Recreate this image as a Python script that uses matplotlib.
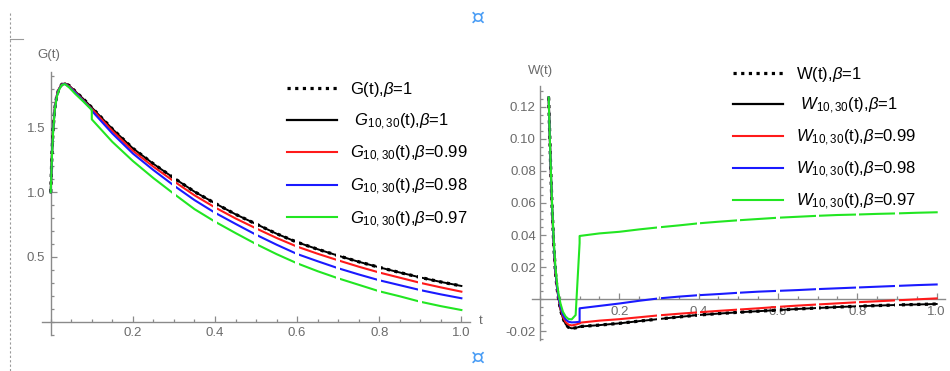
import matplotlib
matplotlib.use("Agg")
import matplotlib.pyplot as plt
from matplotlib.patches import Rectangle
from matplotlib.lines import Line2D
from matplotlib.ticker import FixedLocator, FixedFormatter, MultipleLocator

plt.rcParams['font.family'] = ['Liberation Sans', 'DejaVu Sans']
plt.rcParams['mathtext.fontset'] = 'custom'
plt.rcParams['mathtext.rm'] = 'Liberation Sans'
plt.rcParams['mathtext.it'] = 'Liberation Sans:italic'
plt.rcParams['mathtext.bf'] = 'Liberation Sans:bold'
plt.rcParams['axes.unicode_minus'] = False

# ---------------- data ----------------
t_G = [0, 0.003, 0.006, 0.01, 0.015, 0.02, 0.027, 0.035, 0.045, 0.06, 0.08, 0.1,
       0.1, 0.15, 0.2, 0.25, 0.3, 0.35, 0.4, 0.45, 0.5, 0.55, 0.6, 0.65, 0.7,
       0.75, 0.8, 0.85, 0.9, 0.95, 1.0]
G_exact = [1.0, 1.30, 1.50, 1.65, 1.75, 1.80, 1.835, 1.842, 1.825, 1.78, 1.72, 1.655,
           1.655, 1.49, 1.34, 1.22, 1.11, 1.005, 0.915, 0.83, 0.755, 0.68, 0.614,
           0.56, 0.51, 0.463, 0.42, 0.38, 0.342, 0.307, 0.276]
G_b100 = [1.0, 1.30, 1.50, 1.65, 1.75, 1.80, 1.835, 1.842, 1.825, 1.78, 1.72, 1.655,
          1.655, 1.49, 1.34, 1.22, 1.11, 1.005, 0.915, 0.83, 0.755, 0.68, 0.614,
          0.56, 0.51, 0.463, 0.42, 0.38, 0.342, 0.307, 0.276]
G_b099 = [1.0, 1.30, 1.50, 1.65, 1.75, 1.80, 1.834, 1.840, 1.82, 1.775, 1.71, 1.645,
          1.645, 1.475, 1.321, 1.198, 1.085, 0.977, 0.883, 0.798, 0.721, 0.647, 0.580,
          0.525, 0.474, 0.425, 0.380, 0.340, 0.300, 0.265, 0.232]
G_b098 = [1.0, 1.29, 1.49, 1.645, 1.745, 1.795, 1.832, 1.838, 1.815, 1.77, 1.705, 1.64,
          1.63, 1.455, 1.30, 1.172, 1.052, 0.94, 0.842, 0.756, 0.672, 0.595, 0.523,
          0.467, 0.413, 0.365, 0.32, 0.282, 0.244, 0.211, 0.181]
G_b097 = [1.0, 1.28, 1.48, 1.64, 1.74, 1.79, 1.83, 1.836, 1.81, 1.76, 1.70, 1.636,
          1.564, 1.39, 1.242, 1.11, 0.988, 0.87, 0.773, 0.685, 0.60, 0.522, 0.451,
          0.39, 0.335, 0.285, 0.235, 0.196, 0.154, 0.12, 0.090]

t_W = [0.022, 0.025, 0.028, 0.031, 0.035, 0.039, 0.043, 0.047, 0.052, 0.058, 0.065,
       0.072, 0.08, 0.09, 0.1,
       0.1, 0.15, 0.2, 0.25, 0.3, 0.35, 0.4, 0.45, 0.5, 0.55, 0.6, 0.65, 0.7,
       0.75, 0.8, 0.85, 0.9, 0.95, 1.0]
W_exact = [0.126, 0.100, 0.075, 0.055, 0.033, 0.017, 0.007, 0.0, -0.007, -0.012, -0.0158,
           -0.0177, -0.0183, -0.018, -0.0174,
           -0.0172, -0.0163, -0.0152, -0.0138, -0.0125, -0.0112, -0.0100, -0.0091,
           -0.0083, -0.0076, -0.0069, -0.0062, -0.0056, -0.0050, -0.0045, -0.0041,
           -0.0037, -0.0034, -0.0031]
W_b100 = [0.126, 0.100, 0.075, 0.055, 0.033, 0.017, 0.007, 0.0, -0.007, -0.012, -0.0158,
          -0.0177, -0.0183, -0.018, -0.0174,
          -0.0172, -0.0163, -0.0152, -0.0138, -0.0125, -0.0112, -0.0100, -0.0091,
          -0.0083, -0.0076, -0.0069, -0.0062, -0.0056, -0.0050, -0.0045, -0.0041,
          -0.0037, -0.0034, -0.0031]
W_b099 = [0.126, 0.100, 0.075, 0.055, 0.033, 0.017, 0.0075, 0.0005, -0.006, -0.011, -0.0145,
          -0.016, -0.0165, -0.016, -0.0152,
          -0.0148, -0.0135, -0.0126, -0.0114, -0.0102, -0.0092, -0.0083, -0.0074,
          -0.0066, -0.0058, -0.0049, -0.0041, -0.0034, -0.0027, -0.0020, -0.0014,
          -0.0008, -0.0002, 0.0004]
W_b098 = [0.126, 0.100, 0.076, 0.056, 0.034, 0.018, 0.008, 0.001, -0.005, -0.0098, -0.0128,
          -0.0142, -0.0146, -0.0145, -0.0142,
          -0.0058, -0.0043, -0.0028, -0.0011, 0.0004, 0.0015, 0.0024, 0.0031,
          0.0039, 0.0046, 0.0051, 0.0056, 0.0062, 0.0067, 0.0072, 0.0077,
          0.0082, 0.0087, 0.0091]
W_b097 = [0.126, 0.100, 0.077, 0.057, 0.036, 0.020, 0.010, 0.003, -0.003, -0.008, -0.011,
          -0.0125, -0.0127, -0.010, 0.035,
          0.0394, 0.041, 0.042, 0.0435, 0.0448, 0.046, 0.0473, 0.0483,
          0.0492, 0.050, 0.0508, 0.0514, 0.052, 0.0525, 0.0528, 0.0532,
          0.0535, 0.0539, 0.0542]

G_labels = [r'G(t),$\beta$=1',
            r' $\mathit{G}_{\mathrm{10,30}}$(t),$\beta$=1',
            r'$\mathit{G}_{\mathrm{10,30}}$(t),$\beta$=0.99',
            r'$\mathit{G}_{\mathrm{10,30}}$(t),$\beta$=0.98',
            r'$\mathit{G}_{\mathrm{10,30}}$(t),$\beta$=0.97']
W_labels = [r'W(t),$\beta$=1',
            r' $\mathit{W}_{\mathrm{10,30}}$(t),$\beta$=1',
            r'$\mathit{W}_{\mathrm{10,30}}$(t),$\beta$=0.99',
            r'$\mathit{W}_{\mathrm{10,30}}$(t),$\beta$=0.98',
            r'$\mathit{W}_{\mathrm{10,30}}$(t),$\beta$=0.97']

x_major = [0.2, 0.4, 0.6, 0.8, 1.0]
x_major_labels = ['0.2', '0.4', '0.6', '0.8', '1.0']
G_yticks = [0.5, 1.0, 1.5]
G_ylabels = ['0.5', '1.0', '1.5']
W_yticks = [-0.02, 0.02, 0.04, 0.06, 0.08, 0.10, 0.12]
W_ylabels = ['-0.02', '0.02', '0.04', '0.06', '0.08', '0.10', '0.12']
seg_breaks = [0.3, 0.4, 0.5, 0.6, 0.7, 0.8, 0.9]

# ---------------- styling ----------------
W_PX, H_PX = 950, 371
fig = plt.figure(figsize=(9.5, 3.71), dpi=100)
AX_COL = '#8a8a8a'
TXT_COL = '#6b6b6b'
COLORS = ['black', 'black', '#ff1a1a', '#1a1aff', '#22e622']


def px_axes(x0, x1, ytop, ybot):
    return fig.add_axes([x0 / W_PX, 1 - ybot / H_PX, (x1 - x0) / W_PX, (ybot - ytop) / H_PX])


def mathematica_axes(ax):
    for s in ['top', 'right']:
        ax.spines[s].set_visible(False)
    for s in ['left', 'bottom']:
        ax.spines[s].set_position(('data', 0))
        ax.spines[s].set_color(AX_COL)
        ax.spines[s].set_linewidth(1.0)
    ax.tick_params(which='both', direction='in', color=AX_COL, width=0.9,
                   labelcolor=TXT_COL, labelsize=9.5)
    ax.tick_params(which='major', length=4.5)
    ax.tick_params(which='minor', length=2.5)
    ax.patch.set_visible(False)


def plot_segmented(ax, t, y, gap, **kw):
    edges = [-1.0] + seg_breaks + [2.0]
    lab = kw.pop('label', None)
    for i in range(len(edges) - 1):
        a = edges[i] + (gap if i > 0 else 0)
        b = edges[i + 1] - (gap if i < len(edges) - 2 else 0)
        ln, = ax.plot(t, y, label=lab if i == 0 else None, **kw)
        r = Rectangle((a, -10), b - a, 20, transform=ax.transData)
        ln.set_clip_path(r)


def draw_series(ax, t, series, labels, gap):
    dotted = dict(color='black', lw=2.3, linestyle=(0, (1.0, 1.4)), dash_capstyle='butt')
    plot_segmented(ax, t, series[1], gap, color='black', lw=1.4, zorder=3)
    plot_segmented(ax, t, series[0], gap, label=labels[0], zorder=4, **dotted)
    ax.plot([], [], color='black', lw=1.6, label=labels[1])
    for k in range(2, 5):
        plot_segmented(ax, t, series[k], gap, color=COLORS[k], lw=1.5, zorder=4 + k,
                       label=labels[k])


# ---------------- left panel : G(t) ----------------
axL = px_axes(41.7, 470, 72, 334.6)
mathematica_axes(axL)
axL.set_xlim(-0.022, 1.021)
axL.set_ylim(-0.1, 1.93)
draw_series(axL, t_G, [G_exact, G_b100, G_b099, G_b098, G_b097], G_labels, 0.0045)
axL.xaxis.set_major_locator(FixedLocator(x_major))
axL.xaxis.set_major_formatter(FixedFormatter(x_major_labels))
axL.xaxis.set_minor_locator(MultipleLocator(0.05))
axL.yaxis.set_major_locator(FixedLocator(G_yticks))
axL.yaxis.set_major_formatter(FixedFormatter(G_ylabels))
axL.yaxis.set_minor_locator(MultipleLocator(0.1))
axL.tick_params(axis='x', pad=4)
axL.tick_params(axis='y', pad=4)
fig.text(49 / W_PX, 1 - 55 / H_PX, 'G(t)', ha='center', va='center', color=TXT_COL, fontsize=9.5)
fig.text(481 / W_PX, 1 - 321 / H_PX, 't', ha='center', va='center', color=TXT_COL, fontsize=9.5)
legL = axL.legend(loc='upper left', bbox_to_anchor=(287 / W_PX, 1 - 80 / H_PX),
                  bbox_transform=fig.transFigure, frameon=False, fontsize=12,
                  handlelength=3.0, handletextpad=0.75, labelspacing=0.74,
                  borderpad=0, borderaxespad=0)

# ---------------- right panel : W(t) ----------------
axR = px_axes(532, 945, 86, 340)
mathematica_axes(axR)
axR.set_xlim(-0.02, 1.021)
axR.set_ylim(-0.0256, 0.1331)
draw_series(axR, t_W, [W_exact, W_b100, W_b099, W_b098, W_b097], W_labels, 0.0045)
axR.xaxis.set_major_locator(FixedLocator(x_major))
axR.xaxis.set_major_formatter(FixedFormatter(x_major_labels))
axR.xaxis.set_minor_locator(MultipleLocator(0.05))
axR.yaxis.set_major_locator(FixedLocator(W_yticks))
axR.yaxis.set_major_formatter(FixedFormatter(W_ylabels))
axR.yaxis.set_minor_locator(MultipleLocator(0.005))
axR.tick_params(axis='x', pad=5)
axR.tick_params(axis='y', pad=3)
fig.text(540 / W_PX, 1 - 71 / H_PX, 'W(t)', ha='center', va='center', color=TXT_COL, fontsize=9.5)
legR = axR.legend(loc='upper left', bbox_to_anchor=(733 / W_PX, 1 - 65 / H_PX),
                  bbox_transform=fig.transFigure, frameon=False, fontsize=12,
                  handlelength=3.0, handletextpad=0.75, labelspacing=0.70,
                  borderpad=0, borderaxespad=0)

# ---------------- page decorations ----------------
fig.add_artist(Line2D([10 / W_PX, 10 / W_PX], [1 - 13 / H_PX, 0], transform=fig.transFigure,
                      color='#9a9a9a', lw=0.8, linestyle=(0, (2, 2))))
fig.add_artist(Line2D([10 / W_PX, 23 / W_PX], [1 - 39 / H_PX, 1 - 39 / H_PX],
                      transform=fig.transFigure, color='#9a9a9a', lw=0.8))
fig.text(478 / W_PX, 1 - 18 / H_PX, '\u00a4', ha='center', va='center', color='#4a9df5',
         fontsize=16, family=['DejaVu Sans'])
fig.text(478 / W_PX, 1 - 358 / H_PX, '\u00a4', ha='center', va='center', color='#4a9df5',
         fontsize=16, family=['DejaVu Sans'])

fig.savefig('out.png', dpi=100, facecolor='white')
